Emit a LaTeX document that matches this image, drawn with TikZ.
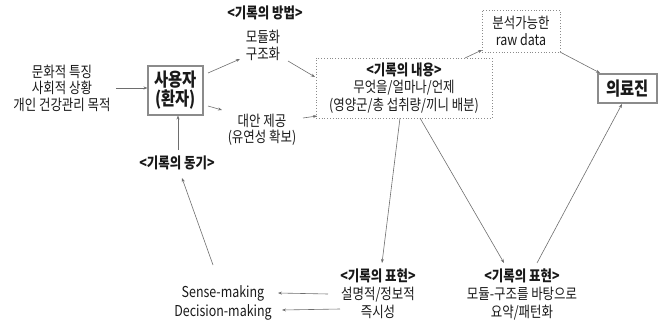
\documentclass[tikz,border=0pt]{standalone}
\usepackage{fontspec}
\setmainfont{Noto Sans CJK KR}[FakeStretch=0.83]
\usetikzlibrary{arrows.meta,calc}
\definecolor{lc}{RGB}{110,110,110}
\definecolor{tc}{RGB}{25,25,25}
\begin{document}
\begin{tikzpicture}[x=1pt,y=-1pt,
  txt/.style={font=\fontsize{15}{16.5}\selectfont, align=center, inner sep=0pt, text=tc},
  hd/.style={txt, font=\fontsize{15}{16.5}\selectfont\bfseries},
  bigbox/.style={draw=lc!80, line width=1.1pt, align=center, inner sep=0pt, text=tc, font=\fontsize{18.5}{18}\selectfont\bfseries},
  dbox/.style={draw=lc!80, dotted, line width=0.8pt, align=center, inner sep=0pt, text=tc, font=\fontsize{15}{17.5}\selectfont},
  arr/.style={draw=lc, line width=0.6pt, -{Stealth[length=4pt,width=3pt]}},
  ln/.style={draw=lc, line width=0.6pt}]
\useasboundingbox (0,0) rectangle (664,324);
\node[txt] (left) at (62,88) {문화적 특징\\사회적 상황\\개인 건강관리 목적};
\node[bigbox, minimum width=55pt, minimum height=49pt] (user) at (175.5,90.5) {사용자\\[1pt](환자)};
\node[hd] (method) at (265,13) {<기록의 방법>};
\node[txt] (mod) at (263,45.5) {모듈화\\구조화};
\node[txt] (alt) at (262,130) {대안 제공\\(유연성 확보)};
\node[dbox, minimum width=176pt, minimum height=60pt] (content) at (404,88) {\textbf{<기록의 내용>}\\무엇을/얼마나/언제\\(영양군/총 섭취량/끼니 배분)};
\node[dbox, minimum width=78pt, minimum height=42pt] (raw) at (521,31) {분석가능한\\raw data};
\node[bigbox, minimum width=59pt, minimum height=29pt] (doc) at (627.5,88.5) {의료진};
\node[hd] (motive) at (177,163) {<기록의 동기>};
\node[txt, font=\fontsize{15}{18}\selectfont] (exprL) at (378,294) {\textbf{<기록의 표현>}\\설명적/정보적\\즉시성};
\node[txt, font=\fontsize{15}{18}\selectfont] (exprR) at (522,294) {\textbf{<기록의 표현>}\\모듈-구조를 바탕으로\\요약/패턴화};
\node[txt] (sense) at (223,293) {Sense-making};
\node[txt] (decision) at (223,312) {Decision-making};

\draw[arr] ([xshift=5pt]left.east) -- (left.east -| user.west);
\draw[arr] ($(user)+(32.5,-17.5)$) -- ($(mod)+(-23,13.5)$);
\draw[arr] ($(mod)+(25,15.5)$) -- ($(content)+(-89,-11)$);
\draw[arr] ($(user)+(32.5,15.5)$) -- ($(alt)+(-40,-20)$);
\draw[arr] ($(alt)+(41,-12)$) -- ($(content)+(-87,28)$);
\draw[arr] ($(motive)+(1,-13)$) -- ($(user.south)+(2.5,0)$);
\draw[arr] ($(content)+(61,-30)$) -- ($(raw)+(-39,19)$);
\draw[arr] ($(raw)+(39,21)$) -- ($(doc)+(-27.5,-15.5)$);
\draw[arr] ($(content)+(-4,30)$) -- ($(exprL)+(4,-31)$);
\draw[arr] ($(content)+(16,30)$) -- ($(exprR)+(-18,-31)$);
\draw[arr] ($(exprR)+(15,-31)$) -- ($(doc)+(-5.5,15.5)$);
\draw[arr] ($(exprL)+(-50,0)$) -- ($(sense)+(55,0)$);
\draw[arr] ($(exprL)+(-38,15)$) -- ($(decision)+(59,-2)$);
\draw[arr] ($(sense)+(-10,-28)$) -- ($(motive)+(5,15)$);
\end{tikzpicture}
\end{document}
